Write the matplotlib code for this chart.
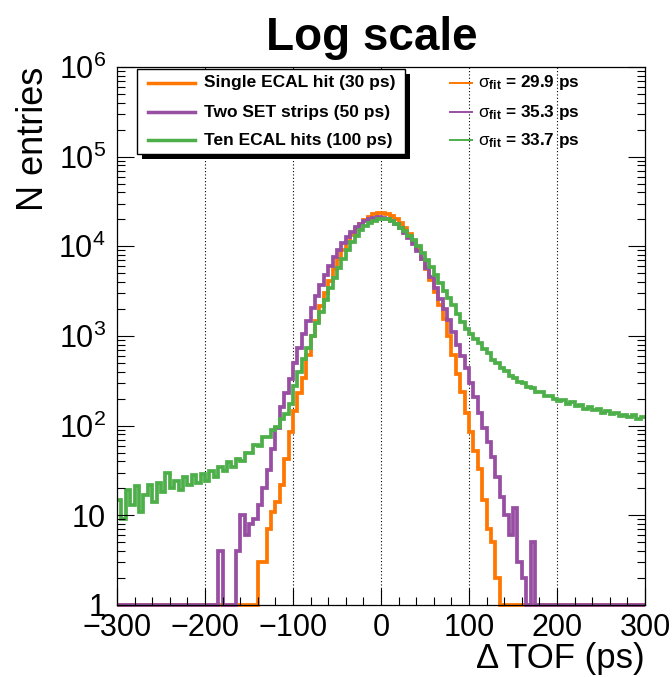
import numpy as np
import matplotlib
matplotlib.use("Agg")
import matplotlib.pyplot as plt
from matplotlib.lines import Line2D
from matplotlib.patches import Rectangle
from matplotlib.ticker import (FixedLocator, FixedFormatter, LogLocator,
                               MultipleLocator, NullFormatter)

# --- data (5 ps bins from -300 to 300 ps) ---
bin_lo, bin_hi, bin_w = -300, 300, 5

single_ecal = [
    0, 0, 0, 0, 0, 0, 0, 0, 0, 0, 0, 0, 0, 0, 0, 0,
    0, 0, 0, 0, 0, 0, 0, 0, 0, 0, 0, 0, 0, 0, 0,
    1, 3, 3, 7, 11, 14, 22, 42, 85, 145,
    230, 340, 620, 1000, 1480, 2150, 3030, 4150, 5520, 7200,
    9100, 11200, 13400, 15700, 17900, 19900, 21500, 22700, 23300,
    23400, 22800, 21700, 20100, 18100, 15900, 13600, 11400, 9250, 7300,
    5650, 4250, 3100, 2230, 1540, 1000, 620, 380, 235, 140,
    85, 52, 33, 15, 7, 5, 2,
    0, 0, 0, 0, 0, 0, 0, 0, 0, 0, 0, 0, 0, 0, 0, 0,
    0, 0, 0, 0, 0, 0, 0, 0, 0, 0, 0, 0, 0, 0, 0, 0, 0,
]

two_set = [
    0, 0, 0, 0, 0, 0, 0, 0, 0, 0, 0, 0,
    0, 0, 0, 0, 0, 0, 0, 0, 0, 0, 0,
    4, 0, 0, 0,
    4, 10, 6, 8, 9, 13, 20, 32, 55, 95, 160, 230, 330,
    500, 730, 1050, 1470, 2040, 2770, 3660, 4760, 6040, 7520,
    9160, 10900, 12700, 14500, 16300, 17900, 19200, 20200, 20800, 21000,
    20700, 20000, 19000, 17600, 16000, 14200, 12300, 10500, 8780, 7180,
    5740, 4500, 3450, 2590, 2000, 1500, 1100, 800, 600, 440,
    300, 210, 140, 95, 65, 45, 27, 16, 10, 6, 12, 3, 2, 0, 5,
    0, 0, 0, 0, 0, 0, 0, 0, 0, 0, 0, 0, 0,
    0, 0, 0, 0, 0, 0, 0, 0, 0, 0, 0, 0,
]

ten_ecal = [
    15, 9, 19, 13, 21, 11, 17, 22, 14, 23,
    18, 30, 20, 24, 19, 27, 22, 28, 23, 29,
    24, 31, 27, 35, 31, 39, 35, 43, 40, 50,
    49, 61, 60, 74, 75, 90, 97, 120, 135,
    174, 275, 400, 550, 740, 1000, 1380, 1860, 2510, 3390,
    4470, 5750, 7240, 9120, 11200, 13200, 15100, 17000, 18400, 19300, 19950,
    20200, 20000, 19300, 17600, 16200, 14800, 13200, 11700, 10000, 8500,
    7080, 5890, 4790, 3890, 3160, 2630, 2190, 1780, 1450, 1200,
    1050, 920, 840, 715, 640, 545, 495, 440, 412, 360,
    342, 308, 296, 270, 262, 240, 236, 214, 212, 198,
    190, 192, 176, 183, 165, 172, 155, 163, 149, 152,
    140, 146, 134, 139, 128, 133, 124, 130, 119, 125,
]

labels = ["Single ECAL hit (30 ps)", "Two SET strips (50 ps)",
          "Ten ECAL hits (100 ps)"]
sigma_fit = ["29.9", "35.3", "33.7"]
colors = ["#ff7700", "#984ea3", "#4daf4a"]

ytick_vals = [1, 10, 1e2, 1e3, 1e4, 1e5, 1e6]
ytick_labels = ["1", "10", "$10^{2}$", "$10^{3}$", "$10^{4}$", "$10^{5}$", "$10^{6}$"]
grid_x = [-200, -100, 0, 100, 200]

# --- style ---
plt.rcParams["font.family"] = ["Liberation Sans", "DejaVu Sans"]
plt.rcParams["mathtext.fontset"] = "custom"
plt.rcParams["mathtext.rm"] = "Liberation Sans"
plt.rcParams["mathtext.it"] = "Liberation Sans:italic"
plt.rcParams["mathtext.bf"] = "Liberation Sans:bold"

W, H = 672, 677
fx = lambda px: px / W
fy = lambda py: 1 - py / H

fig = plt.figure(figsize=(W / 100, H / 100), dpi=100)
ax = fig.add_axes([fx(117), fy(605), (645 - 117) / W, (605 - 67) / H])

edges = np.arange(bin_lo, bin_hi + bin_w, bin_w)
for counts, col in zip([single_ecal, two_set, ten_ecal], colors):
    vals = np.maximum(np.array(counts, dtype=float), 1)  # empty bins sit on the frame
    ax.stairs(vals, edges, color=col, lw=2.7, baseline=None, clip_on=False)

for gx in grid_x:
    ax.axvline(gx, color="k", lw=0.8, ls=(0, (1, 2)), zorder=0.5)

ax.set_yscale("log")
ax.set_xlim(bin_lo, bin_hi)
ax.set_ylim(1, 1e6)

ax.xaxis.set_major_locator(MultipleLocator(100))
ax.xaxis.set_minor_locator(MultipleLocator(20))
ax.yaxis.set_major_locator(FixedLocator(ytick_vals))
ax.yaxis.set_major_formatter(FixedFormatter(ytick_labels))
ax.yaxis.set_minor_locator(LogLocator(base=10, subs=np.arange(2, 10), numticks=20))
ax.yaxis.set_minor_formatter(NullFormatter())

ax.tick_params(which="both", direction="in", right=True, top=False, width=0.8)
ax.tick_params(which="major", length=12, labelsize=22)
ax.tick_params(which="minor", length=6)
ax.tick_params(axis="x", pad=6)
ax.tick_params(axis="y", pad=8)
for sp in ax.spines.values():
    sp.set_linewidth(0.9)

ax.set_xlabel("Δ TOF (ps)", fontsize=25, loc="right")
ax.xaxis.set_label_coords(1.0, -0.068)
ax.set_ylabel("N entries", fontsize=26, loc="top")
ax.yaxis.set_label_coords(-0.125, 1.0)

fig.text(fx(372), fy(50), "Log scale", ha="center", va="baseline",
         fontsize=33, fontweight="bold")

# legend box with ROOT-style shadow
bw, bh = (405 - 137) / W, (154 - 69) / H
fig.add_artist(Rectangle((fx(142), fy(159)), bw, bh, transform=fig.transFigure,
                         facecolor="k", edgecolor="none"))
fig.add_artist(Rectangle((fx(137), fy(154)), bw, bh, transform=fig.transFigure,
                         facecolor="white", edgecolor="k", lw=1.0))
rows = [83, 112, 140]
for lab, sig, col, ry in zip(labels, sigma_fit, colors, rows):
    fig.add_artist(Line2D([fx(148), fx(195)], [fy(ry), fy(ry)], color=col, lw=2.5,
                          transform=fig.transFigure))
    fig.text(fx(204), fy(ry), lab, va="center", fontsize=12.5, fontweight="bold")
    fig.add_artist(Line2D([fx(450), fx(472)], [fy(ry), fy(ry)], color=col, lw=1.4,
                          transform=fig.transFigure))
    fig.text(fx(478), fy(ry), r"$\mathrm{\sigma}_{\mathbf{fit}}$ = " + sig + " ps",
             va="center", fontsize=12.3, fontweight="bold")

fig.savefig("out.png", dpi=100)
